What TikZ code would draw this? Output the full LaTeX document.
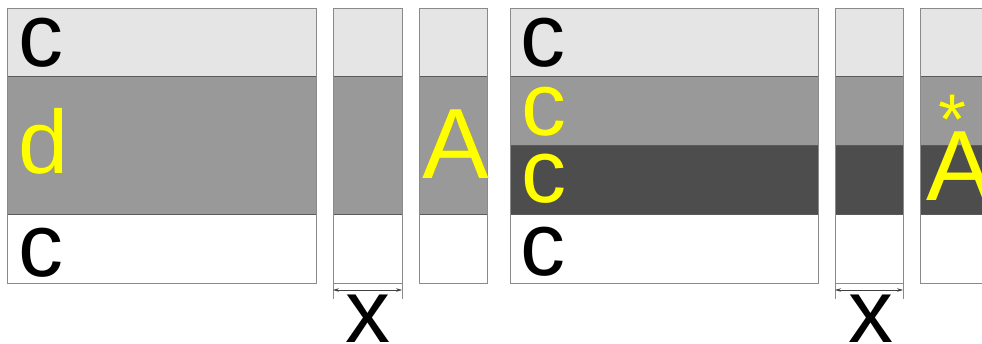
\documentclass[tikz,border=0pt]{standalone}
\usepackage{fontspec}
\setmainfont{Liberation Sans}
\usepackage[outline]{contour}
\contourlength{0.5pt}
\usetikzlibrary{arrows.meta}
\definecolor{bandL}{HTML}{E5E5E5}
\definecolor{bandM}{HTML}{999999}
\definecolor{bandD}{HTML}{4D4D4D}
\definecolor{edgeC}{HTML}{8A8A8A}
\definecolor{sepC}{HTML}{5A5A5A}
\definecolor{txtY}{HTML}{FFFF00}
\definecolor{rimY}{HTML}{7A7A10}
\newcommand\ylw[1]{\contour{rimY}{\textcolor{txtY}{#1}}}
\begin{document}
\begin{tikzpicture}[x=1pt,y=-1pt,
  outline/.style={draw=edgeC,line width=0.8pt},
  sep/.style={draw=sepC,line width=0.8pt},
  big/.style={inner sep=0pt,anchor=base west,font=\fontsize{90}{90}\selectfont},
  bigA/.style={inner sep=0pt,anchor=base west,font=\fontsize{100}{100}\selectfont},
  star/.style={inner sep=0pt,anchor=base west,font=\fontsize{72}{72}\selectfont},
  dimline/.style={draw=black!75,line width=0.6pt,{Stealth[length=6pt,width=3.5pt]}-{Stealth[length=6pt,width=3.5pt]}},
  extline/.style={draw=edgeC,line width=0.6pt}]
\useasboundingbox (0,0) rectangle (982,343);
\clip (0,0) rectangle (982,343);
% ---------- left group ----------
% panel 1
\fill[bandL] (7,8) rectangle (316,76);
\fill[bandM] (7,76) rectangle (316,214);
\fill[white] (7,214) rectangle (316,283);
\draw[sep] (7,76) -- (316,76) (7,214) -- (316,214);
\draw[outline] (7,8) rectangle (316,283);
\node[big,text=black] (c1) at (18.5,66) {c};
\node[big] (d1) at (18,173) {\ylw{d}};
\node[big,text=black] (c2) at (18.5,276) {c};
% column 2
\fill[bandL] (333,8) rectangle (402,76);
\fill[bandM] (333,76) rectangle (402,214);
\fill[white] (333,214) rectangle (402,283);
\draw[sep] (333,76) -- (402,76) (333,214) -- (402,214);
\draw[outline] (333,8) rectangle (402,283);
\draw[extline] (333,283) -- (333,299) (402,283) -- (402,299);
\coordinate (xa1) at (333,290);
\coordinate (xb1) at (402,290);
\draw[dimline] (xa1) -- (xb1);
\node[big,text=black] (x1) at (345,342) {x};
% column 3
\fill[bandL] (419,8) rectangle (487,76);
\fill[bandM] (419,76) rectangle (487,214);
\fill[white] (419,214) rectangle (487,283);
\draw[sep] (419,76) -- (487,76) (419,214) -- (487,214);
\draw[outline] (419,8) rectangle (487,283);
\node[bigA] (A1) at (422,178) {\ylw{A}};
% ---------- right group ----------
% panel 2
\fill[bandL] (510,8) rectangle (818,76);
\fill[bandM] (510,76) rectangle (818,145);
\fill[bandD] (510,145) rectangle (818,214);
\fill[white] (510,214) rectangle (818,283);
\draw[sep] (510,76) -- (818,76) (510,145) -- (818,145) (510,214) -- (818,214);
\draw[outline] (510,8) rectangle (818,283);
\node[big,text=black] (c3) at (520.5,66) {c};
\node[big] (c4) at (521.5,135) {\ylw{c}};
\node[big] (c5) at (521.5,202) {\ylw{c}};
\node[big,text=black] (c6) at (520.5,275) {c};
% column 4
\fill[bandL] (835,8) rectangle (903,76);
\fill[bandM] (835,76) rectangle (903,145);
\fill[bandD] (835,145) rectangle (903,214);
\fill[white] (835,214) rectangle (903,283);
\draw[sep] (835,76) -- (903,76) (835,145) -- (903,145) (835,214) -- (903,214);
\draw[outline] (835,8) rectangle (903,283);
\draw[extline] (835,283) -- (835,299) (903,283) -- (903,299);
\coordinate (xa2) at (835,290);
\coordinate (xb2) at (903,290);
\draw[dimline] (xa2) -- (xb2);
\node[big,text=black] (x2) at (848,342) {x};
% column 5 (cut at the right edge)
\fill[bandL] (920,8) rectangle (1000,76);
\fill[bandM] (920,76) rectangle (1000,145);
\fill[bandD] (920,145) rectangle (1000,214);
\fill[white] (920,214) rectangle (1000,283);
\draw[sep] (920,76) -- (1000,76) (920,145) -- (1000,145) (920,214) -- (1000,214);
\draw[outline] (920,8) rectangle (1000,283);
\node[star] (s1) at (938.5,144) {\ylw{*}};
\node[bigA] (A2) at (926,200) {\ylw{A}};
\end{tikzpicture}
\end{document}
